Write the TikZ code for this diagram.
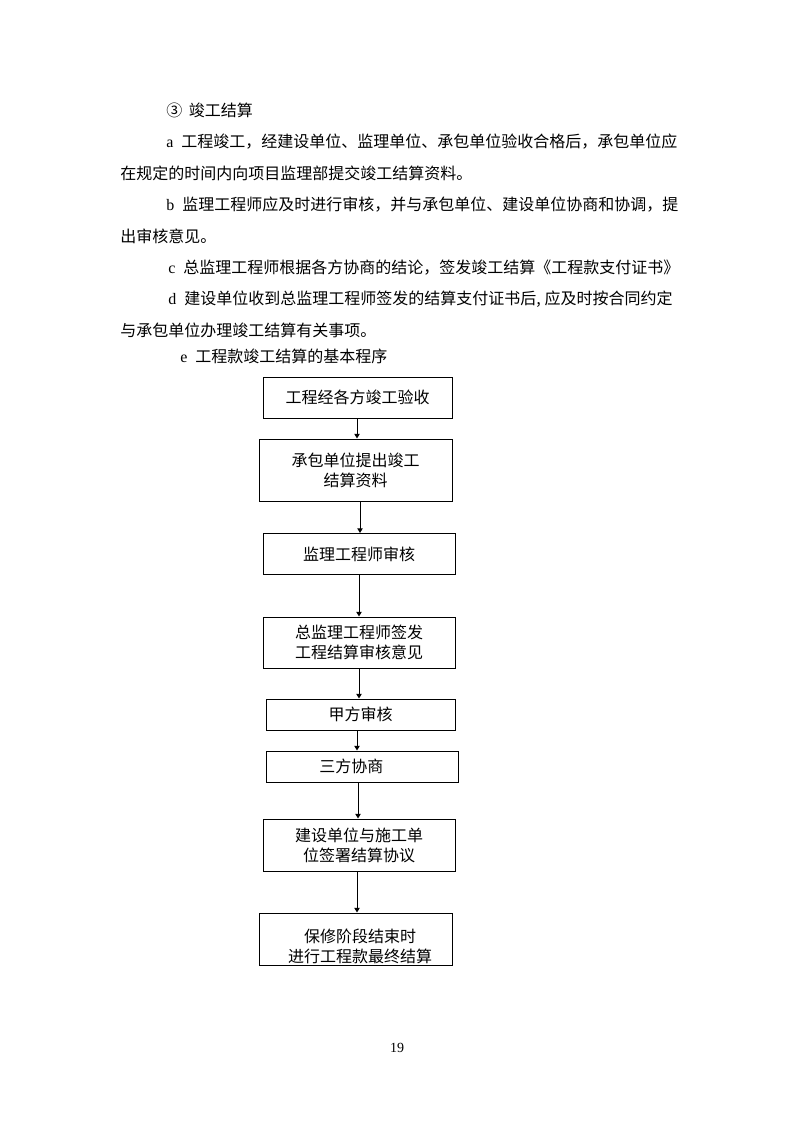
\documentclass[tikz,border=0pt]{standalone}
\usepackage{fontspec}
\setmainfont{Liberation Serif}
\newfontfamily\cjk{Noto Sans CJK SC}
\usetikzlibrary{arrows.meta}
\newcommand\itemlet[1]{{\rmfamily #1}\hspace{6pt}}
\tikzset{
  box/.style={draw, line width=0.75pt, align=center, inner sep=0pt,
    font=\cjk\fontsize{12pt}{15pt}\selectfont},
  boxtext/.style={align=center, inner sep=0pt, font=\cjk\fontsize{12pt}{15pt}\selectfont},
  para/.style={anchor=west, inner sep=0pt, font=\cjk\fontsize{12pt}{15pt}\selectfont},
  arr/.style={-{Triangle[length=3.5pt,width=4pt]}, line width=0.75pt}
}
\begin{document}
\begin{tikzpicture}[x=0.75pt,y=-0.75pt]
        \useasboundingbox[fill=white] (0,0) rectangle (794,1123);
        %Văn bản
        \node[para] (head) at (166,110) {③\hspace{5pt}竣工结算};
        \node[para] (pa1) at (166,142) {\itemlet{a}工程竣工，经建设单位、监理单位、承包单位验收合格后，承包单位应};
        \node[para] (pa2) at (120,173) {在规定的时间内向项目监理部提交竣工结算资料。};
        \node[para] (pb1) at (166,205) {\itemlet{b}监理工程师应及时进行审核，并与承包单位、建设单位协商和协调，提};
        \node[para] (pb2) at (120,236) {出审核意见。};
        \node[para] (pc1) at (168,268) {\itemlet{c}总监理工程师根据各方协商的结论，签发竣工结算《工程款支付证书》};
        \node[para] (pd1) at (168,299) {\itemlet{d}建设单位收到总监理工程师签发的结算支付证书后,\hspace{3pt}应及时按合同约定};
        \node[para] (pd2) at (120,330) {与承包单位办理竣工结算有关事项。};
        \node[para] (pe1) at (180,356) {\itemlet{e}工程款竣工结算的基本程序};
        %Các bước
        \node[box, minimum width=141.75pt, minimum height=30.75pt] (b1) at (357.5,397.5) {工程经各方竣工验收};
        \node[box, minimum width=144.75pt, minimum height=46.5pt] (b2) at (355.5,470) {承包单位提出竣工\\结算资料};
        \node[box, minimum width=144pt, minimum height=30.75pt] (b3) at (359,554) {监理工程师审核};
        \node[box, minimum width=144pt, minimum height=38.25pt] (b4) at (359,642.5) {总监理工程师签发\\工程结算审核意见};
        \node[box, minimum width=141.75pt, minimum height=23.25pt] (b5) at (360.5,714.5) {甲方审核};
        \node[box, minimum width=144pt, minimum height=23.25pt] (b6) at (362,766.5) {\hspace*{-16pt}三方协商};
        \node[box, minimum width=144pt, minimum height=39pt] (b7) at (359,845) {建设单位与施工单\\位签署结算协议};
        \node[box, minimum width=144.75pt, minimum height=39pt] (b8) at (355.5,939) {};
        \node[boxtext] (t8) at (360,946) {保修阶段结束时\\进行工程款最终结算};
        %Mũi tên
        \foreach \s/\t/\x in {b1/b2/357, b2/b3/360, b3/b4/359, b4/b5/359, b5/b6/357, b6/b7/358, b7/b8/357}
        {\draw[arr] (\s.south -| \x,0) -- (\t.north -| \x,0);}
        %Số trang
        \node[inner sep=0pt, font=\fontsize{10.5pt}{12pt}\selectfont] (page) at (397,1048) {19};
\end{tikzpicture}
\end{document}
